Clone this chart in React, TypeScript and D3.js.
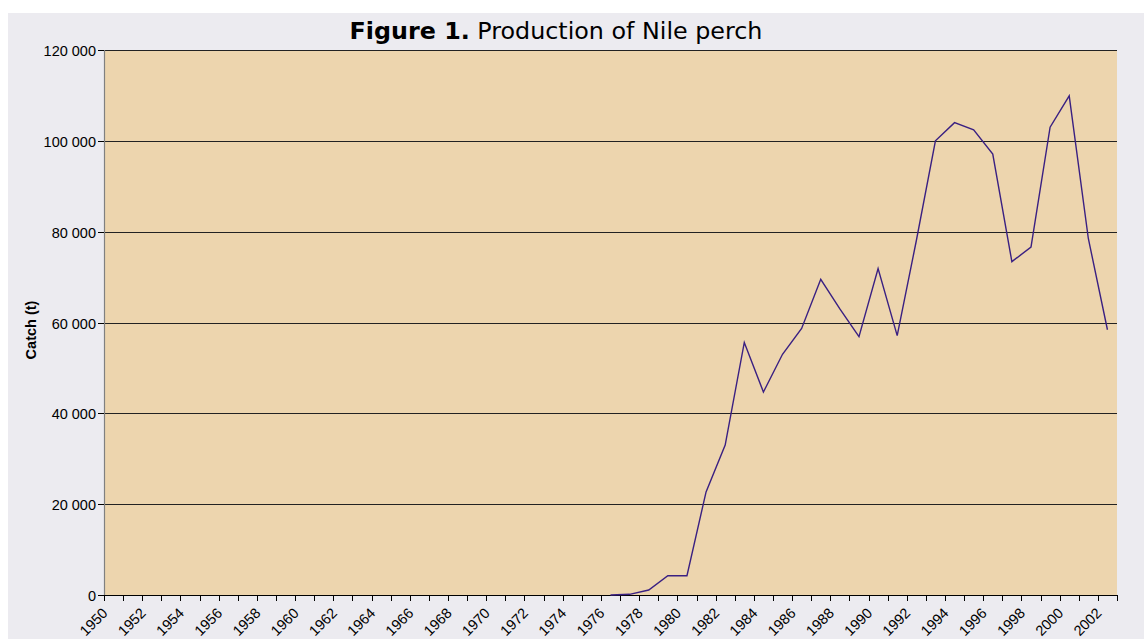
import * as d3 from "d3";
import { useEffect, useRef } from "react";

// years on the category axis
const years = d3.range(1950, 2003);
// catch in tonnes, null = no data
const catchValues: (number | null)[] = [
  null, null, null, null, null, null, null, null, null, null, // 1950-59
  null, null, null, null, null, null, null, null, null, null, // 1960-69
  null, null, null, null, null, null, 0, 150, 1100, 4250,     // 1970-79
  4250, 22700, 33000, 55600, 44700, 53000, 58700, 69500, 63000, 56900, // 1980-89
  71900, 57100, 78000, 100000, 104000, 102400, 97100, 73400, 76600, 103000, // 1990-99
  109900, 78500, 58400, // 2000-02
];
const yTicks = [0, 20000, 40000, 60000, 80000, 100000, 120000];
const tickLabelYears = years.filter((y) => (y - 1950) % 2 === 0);

const W = 1144;
const H = 639;

export default function App() {
  const ref = useRef<SVGSVGElement>(null);

  useEffect(() => {
    const svg = d3.select(ref.current);
    svg.selectAll("*").remove();

    const m = { left: 104, top: 50, right: 1117, bottom: 595 };
    const font = "Liberation Sans, Arial, sans-serif";

    svg.append("rect").attr("x", 8).attr("y", 13).attr("width", W - 8).attr("height", H - 13).attr("fill", "#ecebf0");

    const x = d3.scaleBand<number>().domain(years).range([m.left, m.right]).padding(0);
    const y = d3.scaleLinear().domain([0, 120000]).range([m.bottom, m.top]);

    svg.append("rect")
      .attr("x", m.left).attr("y", m.top)
      .attr("width", m.right - m.left).attr("height", m.bottom - m.top)
      .attr("fill", "#edd5ae");

    // gridlines
    svg.append("g").selectAll("line")
      .data(yTicks.filter((t) => t > 0))
      .enter().append("line")
      .attr("x1", m.left).attr("x2", m.right)
      .attr("y1", (d) => Math.round(y(d)) + 0.5).attr("y2", (d) => Math.round(y(d)) + 0.5)
      .attr("stroke", "#222").attr("stroke-width", 1);

    // left axis line
    svg.append("line")
      .attr("x1", m.left + 0.5).attr("x2", m.left + 0.5)
      .attr("y1", m.top).attr("y2", m.bottom)
      .attr("stroke", "#808080").attr("stroke-width", 1.2);

    // y ticks + labels
    const yg = svg.append("g");
    yTicks.forEach((t) => {
      const yy = Math.round(y(t)) + 0.5;
      yg.append("line").attr("x1", m.left - 6).attr("x2", m.left).attr("y1", yy).attr("y2", yy).attr("stroke", "#000");
      yg.append("text")
        .attr("x", m.left - 8).attr("y", yy).attr("dy", "0.35em")
        .attr("text-anchor", "end")
        .attr("font-family", font)
        .attr("font-size", 14.5)
        .attr("fill", "#000")
        .text(d3.format(",")(t).replace(/,/g, " "));
    });

    // bottom axis
    const xg = svg.append("g");
    xg.append("line")
      .attr("x1", m.left).attr("x2", m.right)
      .attr("y1", m.bottom + 0.5).attr("y2", m.bottom + 0.5)
      .attr("stroke", "#000");
    const bw = x.bandwidth();
    years.concat([2003]).forEach((yr) => {
      const xx = yr === 2003 ? m.right : (x(yr) as number);
      xg.append("line")
        .attr("x1", Math.round(xx) + 0.5).attr("x2", Math.round(xx) + 0.5)
        .attr("y1", m.bottom).attr("y2", m.bottom + 6)
        .attr("stroke", "#000");
    });
    tickLabelYears.forEach((yr) => {
      const cx = (x(yr) as number) + bw / 2 - 5;
      xg.append("text")
        .attr("transform", `translate(${cx},${m.bottom + 19}) rotate(-45)`)
        .attr("text-anchor", "end")
        .attr("font-family", font)
        .attr("font-size", 14.5)
        .attr("fill", "#000")
        .text(String(yr));
    });

    // series line
    const line = d3.line<number | null>()
      .defined((d) => d !== null)
      .x((_, i) => (x(years[i]) as number) + bw / 2)
      .y((d) => y(d as number));
    svg.append("path")
      .datum(catchValues)
      .attr("d", line)
      .attr("fill", "none")
      .attr("stroke", "#3a2082")
      .attr("stroke-width", 1.4);

    // y axis title
    svg.append("text")
      .attr("transform", `translate(36,330) rotate(-90)`)
      .attr("text-anchor", "middle")
      .attr("font-family", font)
      .attr("font-weight", "bold")
      .attr("font-size", 14.5)
      .text("Catch (t)");

    // title
    const title = svg.append("text")
      .attr("x", 556).attr("y", 39)
      .attr("text-anchor", "middle")
      .attr("font-family", "DejaVu Sans, Verdana, sans-serif")
      .attr("font-size", 23.8)
      .attr("fill", "#000");
    title.append("tspan").attr("font-weight", "bold").text("Figure 1.");
    title.append("tspan").text(" Production of Nile perch");
  }, []);

  return <svg ref={ref} width={W} height={H} style={{ position: "absolute", left: 0, top: 0, display: "block" }} />;
}
